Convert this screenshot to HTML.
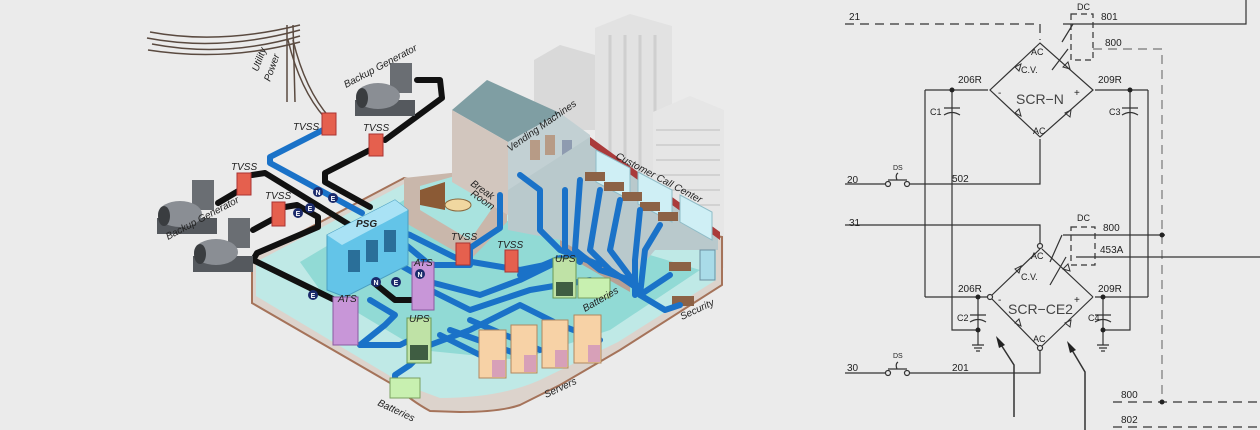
<!DOCTYPE html>
<html><head><meta charset="utf-8"><style>
html,body{margin:0;padding:0;background:#ebebeb;}
svg{display:block}
text{font-family:"Liberation Sans",sans-serif;}
.lb{font-style:italic;font-size:10px;fill:#222}
.sc{font-size:10px;fill:#222}
</style></head><body>
<svg width="1260" height="430" viewBox="0 0 1260 430" xmlns="http://www.w3.org/2000/svg">
<rect width="1260" height="430" fill="#ebebeb"/>
<!-- background buildings -->
<polygon points="534,60 560,45 595,55 595,130 534,130" fill="#d9d9d9"/>
<polygon points="595,28 630,14 672,26 672,270 595,270" fill="#e2e2e2"/>
<g stroke="#cfcfcf" stroke-width="3"><line x1="610" y1="35" x2="610" y2="200"/><line x1="625" y1="35" x2="625" y2="200"/><line x1="640" y1="35" x2="640" y2="200"/><line x1="655" y1="35" x2="655" y2="200"/></g>
<polygon points="653,112 690,96 724,110 724,268 653,268" fill="#e6e6e6"/>
<g stroke="#d2d2d2" stroke-width="2"><line x1="656" y1="130" x2="720" y2="130"/><line x1="656" y1="145" x2="720" y2="145"/><line x1="656" y1="160" x2="720" y2="160"/><line x1="656" y1="175" x2="720" y2="175"/><line x1="656" y1="190" x2="720" y2="190"/><line x1="656" y1="205" x2="720" y2="205"/></g>

<!-- base / floor -->
<path d="M252,258 L404,178 L722,237 L722,285 L620,350 L560,385 Q540,395 520,405 Q500,412 460,412 L430,411 Q410,400 397,387 L252,303 Z" fill="#dcd3cc" stroke="#a5735a" stroke-width="2"/>
<path d="M256,262 L404,184 L716,242 L716,280 L618,342 L540,380 Q500,398 440,398 L405,385 L256,296 Z" fill="#bfe9e6"/>
<path d="M300,262 L404,200 L600,240 L700,270 L610,330 L520,360 L420,350 L320,290Z" fill="#7ed3cd" opacity="0.7"/>
<!-- back walls -->
<polygon points="404,178 460,172 507,176 507,222 470,260 404,222" fill="#c9b7ab"/>
<polygon points="420,186 455,176 495,182 498,200 470,240 420,210" fill="#a9e3df"/>
<polygon points="420,190 445,182 445,210 420,205" fill="#8b5a35"/>
<ellipse cx="458" cy="205" rx="13" ry="6" fill="#f0d7a0" stroke="#8a6a40"/>
<!-- vending tower -->
<polygon points="452,110 487,80 560,113 508,142" fill="#7f9ea3"/>
<polygon points="452,110 508,142 508,215 452,182" fill="#d2c6be"/>
<polygon points="508,142 560,113 590,135 590,170 508,200" fill="#c2d0d3"/>
<rect x="530" y="140" width="10" height="20" fill="#b79b86"/><rect x="545" y="135" width="10" height="20" fill="#b79b86"/><rect x="562" y="140" width="10" height="20" fill="#8e9bb0"/>
<!-- call center floor -->
<polygon points="508,190 590,137 718,234 718,250 655,250 630,280 560,240 508,230" fill="#b9c9cc"/>
<polygon points="560,240 630,280 630,292 560,252" fill="#b8a094"/>
<polygon points="590,137 720,232 720,240 590,145" fill="#aa3b3b"/>
<polygon points="596,150 630,168 630,200 596,182" fill="#cfeff5" stroke="#8fbcc7"/>
<polygon points="638,172 672,190 672,222 638,204" fill="#cfeff5" stroke="#8fbcc7"/>
<polygon points="680,195 712,212 712,240 680,222" fill="#cfeff5" stroke="#8fbcc7"/>
<g fill="#8c6246"><rect x="585" y="172" width="20" height="9"/><rect x="604" y="182" width="20" height="9"/><rect x="622" y="192" width="20" height="9"/><rect x="640" y="202" width="20" height="9"/><rect x="658" y="212" width="20" height="9"/><rect x="669" y="262" width="22" height="9"/><rect x="672" y="296" width="22" height="10"/></g>
<rect x="700" y="250" width="15" height="30" fill="#a9dbe8" stroke="#6c8fa0"/>

<!-- blue wires -->
<g fill="none" stroke="#1a72c8" stroke-width="6" stroke-linejoin="round" stroke-linecap="round">
<polyline points="323,130 270,157 270,163 362,213"/>
<polyline points="400,240 430,265 470,265 470,248"/>
<polyline points="470,248 500,228 500,195"/>
<polyline points="410,235 460,260 520,270 560,262"/>
<polyline points="520,275 560,258"/>
<polyline points="430,290 470,310 530,290 590,280"/>
<polyline points="400,265 430,282 480,295 520,280 565,258"/>
<polyline points="360,345 385,325 395,315 370,300"/>
<polyline points="360,345 400,345 410,340"/>
<polyline points="395,385 395,375 410,365 420,355"/>
<polyline points="430,345 470,330 520,305 560,325 600,340"/>
<polyline points="440,335 480,355"/>
<polyline points="450,330 520,355"/>
<polyline points="470,320 540,350"/>
<polyline points="520,175 540,190 540,230 560,250 600,265"/>
<polyline points="565,190 565,250 580,262"/>
<polyline points="580,180 575,250 600,270 630,280"/>
<polyline points="600,190 590,250 610,270 640,290"/>
<polyline points="620,200 610,250 640,290"/>
<polyline points="640,210 635,260 635,295"/>
<polyline points="660,225 645,250 640,295 670,275"/>
<polyline points="640,295 665,310 680,305"/>
<polyline points="365,220 410,235"/>
</g>
<!-- black cables -->
<g fill="none" stroke="#111" stroke-width="6" stroke-linejoin="round" stroke-linecap="round">
<polyline points="417,80 440,80 442,98 385,140"/>
<polyline points="370,150 325,173 325,182 370,207"/>
<polyline points="218,203 240,190"/>
<polyline points="252,175 265,173 353,227"/>
<polyline points="253,230 275,218"/>
<polyline points="285,207 297,205 318,217 318,227 257,253 253,260 345,305"/>
<polyline points="368,278 395,300 412,300"/>
</g>
<!-- utility pole -->
<g stroke="#5a4a40" fill="none" stroke-width="1.5">
<line x1="287" y1="25" x2="287" y2="102"/><line x1="293" y1="25" x2="295" y2="102"/>
<path d="M150,32 Q220,45 300,25"/><path d="M147,38 Q220,52 300,30"/><path d="M152,44 Q225,58 300,36"/><path d="M148,50 Q225,62 300,42"/>
<path d="M288,40 Q300,90 325,118"/><path d="M293,40 Q305,90 330,118"/>
</g>
<!-- generators -->
<g>
<rect x="355" y="100" width="60" height="16" fill="#55595e"/>
<rect x="390" y="63" width="22" height="30" fill="#6a6e73"/>
<ellipse cx="378" cy="96" rx="22" ry="13" fill="#8a8e94"/><ellipse cx="362" cy="98" rx="6" ry="10" fill="#3a3d40"/>
<rect x="157" y="218" width="60" height="16" fill="#55595e"/>
<rect x="192" y="180" width="22" height="30" fill="#6a6e73"/>
<ellipse cx="180" cy="214" rx="22" ry="13" fill="#8a8e94"/><ellipse cx="164" cy="216" rx="6" ry="10" fill="#3a3d40"/>
<rect x="193" y="256" width="60" height="16" fill="#55595e"/>
<rect x="228" y="218" width="22" height="30" fill="#6a6e73"/>
<ellipse cx="216" cy="252" rx="22" ry="13" fill="#8a8e94"/><ellipse cx="200" cy="254" rx="6" ry="10" fill="#3a3d40"/>
</g>
<!-- TVSS boxes -->
<g fill="#e5604e" stroke="#a33"><rect x="322" y="113" width="14" height="22"/><rect x="369" y="134" width="14" height="22"/><rect x="237" y="173" width="14" height="22"/><rect x="272" y="202" width="13" height="24"/><rect x="456" y="243" width="14" height="22"/><rect x="505" y="250" width="13" height="22"/></g>
<!-- PSG -->
<polygon points="327,235 395,200 408,210 408,265 345,297 327,290" fill="#63c4e8" stroke="#4a9fc2"/>
<polygon points="327,235 395,200 408,210 342,245" fill="#a9e2f5"/>
<g fill="#2a6f99"><rect x="348" y="250" width="12" height="22"/><rect x="366" y="240" width="12" height="22"/><rect x="384" y="230" width="12" height="22"/></g>
<!-- ATS -->
<rect x="333" y="297" width="25" height="48" fill="#c896d8" stroke="#8a5aa0"/>
<rect x="412" y="262" width="22" height="48" fill="#c896d8" stroke="#8a5aa0"/>
<!-- UPS -->
<rect x="407" y="318" width="24" height="45" fill="#bfe2a6" stroke="#6a9a55"/><rect x="410" y="345" width="18" height="15" fill="#3f5d42"/>
<rect x="553" y="258" width="23" height="40" fill="#bfe2a6" stroke="#6a9a55"/><rect x="556" y="282" width="17" height="14" fill="#3f5d42"/>
<!-- batteries -->
<rect x="390" y="378" width="30" height="20" fill="#c8f0b0" stroke="#7aa060"/>
<rect x="578" y="278" width="32" height="20" fill="#c8f0b0" stroke="#7aa060"/>
<!-- servers -->
<g fill="#f7d2a6" stroke="#b08860"><rect x="479" y="330" width="27" height="48"/><rect x="511" y="325" width="26" height="48"/><rect x="542" y="320" width="26" height="48"/><rect x="574" y="315" width="27" height="48"/></g>
<g fill="#d7a0b8"><rect x="492" y="360" width="13" height="17"/><rect x="524" y="355" width="12" height="17"/><rect x="555" y="350" width="12" height="17"/><rect x="588" y="345" width="12" height="17"/></g>
<!-- E/N badges -->
<g fill="#1b2a6b"><circle cx="318" cy="192" r="5"/><circle cx="333" cy="198" r="5"/><circle cx="298" cy="213" r="5"/><circle cx="310" cy="208" r="5"/><circle cx="313" cy="295" r="5"/><circle cx="376" cy="282" r="5"/><circle cx="396" cy="282" r="5"/><circle cx="393" cy="278" r="0"/><circle cx="420" cy="274" r="5"/></g>
<g font-size="7" fill="#fff" font-weight="bold" text-anchor="middle" font-family="Liberation Sans"><text x="318" y="195">N</text><text x="333" y="201">E</text><text x="298" y="216">E</text><text x="310" y="211">E</text><text x="313" y="298">E</text><text x="376" y="285">N</text><text x="396" y="285">E</text><text x="420" y="277">N</text></g>
<!-- labels -->
<text class="lb" transform="translate(258,72) rotate(-70)">Utility</text>
<text class="lb" transform="translate(270,82) rotate(-70)">Power</text>
<text class="lb" transform="translate(346,88) rotate(-28)">Backup Generator</text>
<text class="lb" transform="translate(168,240) rotate(-28)">Backup Generator</text>
<text class="lb" x="293" y="130" font-size="11">TVSS</text>
<text class="lb" x="363" y="131" font-size="11">TVSS</text>
<text class="lb" x="231" y="170" font-size="11">TVSS</text>
<text class="lb" x="265" y="199" font-size="11">TVSS</text>
<text class="lb" x="451" y="240" font-size="11">TVSS</text>
<text class="lb" x="497" y="248" font-size="11">TVSS</text>
<text class="lb" x="356" y="227" font-size="11" font-weight="bold">PSG</text>
<text class="lb" x="338" y="302" font-size="11">ATS</text>
<text class="lb" x="414" y="266" font-size="11">ATS</text>
<text class="lb" x="409" y="322" font-size="11">UPS</text>
<text class="lb" x="555" y="262" font-size="11">UPS</text>
<text class="lb" transform="translate(377,405) rotate(25)" font-size="9">Batteries</text>
<text class="lb" transform="translate(585,312) rotate(-30)" font-size="9">Batteries</text>
<text class="lb" transform="translate(546,398) rotate(-25)" font-size="9">Servers</text>
<text class="lb" transform="translate(682,320) rotate(-25)" font-size="9">Security</text>
<text class="lb" transform="translate(470,185) rotate(35)" font-size="8">Break</text>
<text class="lb" transform="translate(470,195) rotate(35)" font-size="8">Room</text>
<text class="lb" transform="translate(510,152) rotate(-35)" font-size="8">Vending Machines</text>
<text class="lb" transform="translate(615,158) rotate(28)" font-size="8">Customer Call Center</text>

<!-- ===== schematic ===== -->
<g fill="none" stroke="#333" stroke-width="1.2">
<path d="M845,24 H1040 V40" stroke-dasharray="9,6"/>
<path d="M1063,24 H1246 V0"/>
<path d="M1093,49 H1162 V402" stroke="#777" stroke-dasharray="9,6"/>
<path d="M1062,42 L1073,24 M1052,70 L1068,49"/>
<rect x="1071" y="14" width="22" height="46" stroke-dasharray="6,4"/>
<!-- top bridge -->
<path d="M1040,43 L990,90 L1040,137 L1093,90 Z"/>
<path d="M925,90 H988 M1095,90 H1148 M925,90 V297 M952,90 V330 H978 M1130,90 V330 H1103 M1148,90 V297"/>
<path d="M845,184 H885 M910,184 H1040 V139"/>
<circle cx="888" cy="184" r="2.5"/><circle cx="907" cy="184" r="2.5"/>
<path d="M888,180 L907,180 M897,180 Q895,175 898,173"/>
<!-- bottom bridge -->
<path d="M845,225 H1040 V243"/>
<circle cx="1040" cy="246" r="2.5"/><circle cx="990" cy="297" r="2.5"/><circle cx="1040" cy="348" r="2.5"/>
<path d="M1040,249 L992,295 M992,299 L1038,346 M1042,346 L1093,297 M1093,297 L1042,249"/>
<path d="M925,297 H987 M1095,297 H1148 M978,297 V345 M1103,297 V345"/>
<path d="M1063,235 H1165 M1076,257 H1260 M1062,235 L1050,262 M1066,257 L1050,285"/>
<rect x="1071" y="227" width="24" height="38" stroke-dasharray="6,4"/>
<path d="M845,373 H885 M910,373 H1040 V350"/>
<circle cx="888" cy="373" r="2.5"/><circle cx="907" cy="373" r="2.5"/>
<path d="M888,369 L907,369 M897,369 Q895,364 898,362"/>
<!-- caps -->
<path d="M944,108 H960 M944,115 Q952,110 960,115 M1122,108 H1138 M1122,115 Q1130,110 1138,115"/>
<path d="M970,315 H986 M970,322 Q978,317 986,322 M1095,315 H1111 M1095,322 Q1103,317 1111,322"/>
<path d="M972,345 H984 M974,348 H982 M976,351 H980 M1097,345 H1109 M1099,348 H1107 M1101,351 H1105"/>
<!-- arrows -->
<path d="M1014,417 V365 L998,340" stroke-width="1.5"/>
<path d="M1085,430 V372 L1069,345" stroke-width="1.5"/>
<path d="M1113,402 H1260 M1113,427 H1260" stroke-dasharray="9,6"/>
</g>
<g fill="#222"><polygon points="996,336 1005,345 999,348"/><polygon points="1067,341 1076,350 1070,353"/>
<circle cx="952" cy="90" r="2.5"/><circle cx="1130" cy="90" r="2.5"/><circle cx="978" cy="297" r="2.5"/><circle cx="1103" cy="297" r="2.5"/><circle cx="978" cy="330" r="2.5"/><circle cx="1103" cy="330" r="2.5"/><circle cx="1162" cy="235" r="2.5"/><circle cx="1162" cy="402" r="2.5"/></g>
<!-- diodes -->
<g fill="none" stroke="#333"><path d="M1015,67 l6,-3 l-2,7 z M1063,67 l7,2 l-2,-7z M1015,113 l6,3 l-2,-7z M1065,113 l6,-3 l-1,7z M1015,269 l6,-3 l-2,7z M1063,269 l7,2 l-2,-7z M1015,323 l6,3 l-2,-7z M1065,323 l6,-3 l-1,7z"/></g>
<g class="sc">
<text x="849" y="20">21</text><text x="1101" y="20">801</text><text x="1077" y="10" font-size="9">DC</text><text x="1105" y="46">800</text>
<text x="1031" y="55" font-size="9">AC</text><text x="1021" y="73" font-size="9">C.V.</text>
<text x="958" y="83">206R</text><text x="1098" y="83">209R</text>
<text x="1016" y="104" font-size="14" fill="#444">SCR−N</text><text x="998" y="96">-</text><text x="1074" y="96">+</text>
<text x="930" y="115" font-size="9">C1</text><text x="1109" y="115" font-size="9">C3</text>
<text x="1033" y="134" font-size="9">AC</text>
<text x="893" y="170" font-size="7">DS</text><text x="847" y="183">20</text><text x="952" y="182">502</text>
<text x="849" y="226">31</text><text x="1077" y="221" font-size="9">DC</text><text x="1103" y="231">800</text><text x="1100" y="253">453A</text>
<text x="1031" y="259" font-size="9">AC</text><text x="1021" y="280" font-size="9">C.V.</text>
<text x="958" y="292">206R</text><text x="1098" y="292">209R</text>
<text x="1008" y="314" font-size="14" fill="#444">SCR−CE2</text><text x="998" y="303">-</text><text x="1074" y="303">+</text>
<text x="957" y="321" font-size="9">C2</text><text x="1088" y="321" font-size="9">C4</text>
<text x="1033" y="342" font-size="9">AC</text>
<text x="893" y="358" font-size="7">DS</text><text x="847" y="371">30</text><text x="952" y="371">201</text>
<text x="1121" y="398">800</text><text x="1121" y="423">802</text>
</g>
</svg>
</body></html>
